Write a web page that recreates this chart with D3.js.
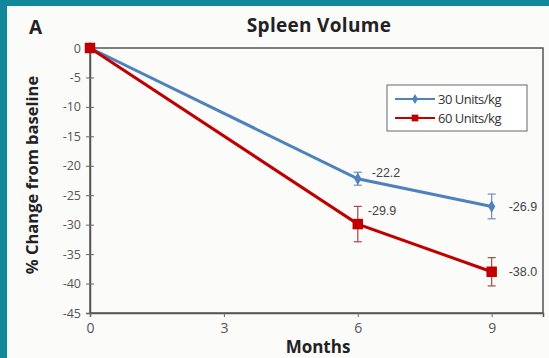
<!DOCTYPE html>
<html>
<head>
<meta charset="utf-8">
<script src="https://cdn.jsdelivr.net/npm/d3@7"></script>
<style>
  html, body { margin: 0; padding: 0; background: #fbfbfa; }
  svg { display: block; font-family: "Open Sans", "Liberation Sans", sans-serif; }
</style>
</head>
<body>
<svg width="549" height="358"></svg>
<script>
'use strict';
// chart data
var months = [0, 6, 9];
var xTicks = [0, 3, 6, 9];
var yTicks = [0, -5, -10, -15, -20, -25, -30, -35, -40, -45];
var seriesNames = ["30 Units/kg", "60 Units/kg"];
var low = [0, -22.2, -26.9];
var lowErr = [0, 1.1, 2.1];
var high = [0, -29.9, -38.0];
var highErr = [0, 3.0, 2.4];
var lowLabels = ["", "-22.2", "-26.9"];
var highLabels = ["", "-29.9", "-38.0"];

var svg = d3.select("svg"),
    margin = {top: 48, right: 6, bottom: 45, left: 90},
    width = +svg.attr("width") - margin.left - margin.right,
    height = +svg.attr("height") - margin.top - margin.bottom;

// teal frame on top and left
svg.append("rect").attr("x", 0).attr("y", 0).attr("width", 549).attr("height", 6).attr("fill", "#12899a");
svg.append("rect").attr("x", 0).attr("y", 0).attr("width", 7).attr("height", 358).attr("fill", "#12899a");

var x = d3.scaleLinear().domain([0, 10.15]).range([0, width]),
    y = d3.scaleLinear().domain([0, -45]).range([0, height]);

var g = svg.append("g").attr("transform", "translate(" + margin.left + "," + margin.top + ")");

svg.append("text").attr("x", 29).attr("y", 34).attr("font-size", 19).attr("font-weight", "bold")
  .attr("fill", "#222").text("A");
svg.append("text").attr("x", 319).attr("y", 32).attr("text-anchor", "middle").attr("font-size", 19)
  .attr("font-weight", "bold").attr("fill", "#222").attr("letter-spacing", 0.3).text("Spleen Volume");

// frame
g.append("rect").attr("width", width).attr("height", height)
  .attr("fill", "none").attr("stroke", "#555").attr("stroke-width", 1.5);

var yAxis = g.append("g")
  .call(d3.axisLeft(y).tickValues(yTicks).tickFormat(function(d) { return String(d); })
    .tickSize(4).tickPadding(5));
yAxis.selectAll(".tick line").attr("x2", 4).attr("x1", -4).attr("stroke", "#666");
yAxis.select(".domain").attr("stroke", "#555").attr("stroke-width", 1.5);
yAxis.selectAll("text").attr("font-size", 12.5).attr("fill", "#555").attr("font-family", "Open Sans, sans-serif");

var xAxis = g.append("g").attr("transform", "translate(0," + height + ")")
  .call(d3.axisBottom(x).tickValues(xTicks).tickSize(4).tickPadding(6));
xAxis.selectAll(".tick line").attr("stroke", "#666");
xAxis.select(".domain").attr("stroke", "#555").attr("stroke-width", 1.5);
xAxis.selectAll("text").attr("font-size", 14).attr("fill", "#555").attr("font-family", "Open Sans, sans-serif");

svg.append("text").attr("x", 318).attr("y", 353).attr("text-anchor", "middle").attr("font-size", 17)
  .attr("font-weight", "bold").attr("fill", "#222").text("Months");
svg.append("text").attr("transform", "translate(38,175) rotate(-90)").attr("text-anchor", "middle")
  .attr("font-size", 16.5).attr("font-weight", "bold").attr("fill", "#222").text("% Change from baseline");

function drawSeries(vals, errs, color, errColor, marker) {
  var line = d3.line().x(function(d, i) { return x(months[i]); }).y(function(d) { return y(d); });
  g.append("path").datum(vals).attr("d", line).attr("fill", "none")
    .attr("stroke", color).attr("stroke-width", 3);
  vals.forEach(function(v, i) {
    if (errs[i] > 0) {
      var cx = x(months[i]), y1 = y(v + errs[i]), y2 = y(v - errs[i]);
      g.append("line").attr("x1", cx).attr("x2", cx).attr("y1", y1).attr("y2", y2)
        .attr("stroke", errColor).attr("stroke-width", 1.2);
      [y1, y2].forEach(function(yy) {
        g.append("line").attr("x1", cx - 4).attr("x2", cx + 4).attr("y1", yy).attr("y2", yy)
          .attr("stroke", errColor).attr("stroke-width", 1.2);
      });
    }
  });
  g.selectAll(null).data(vals).enter().append("path")
    .attr("transform", function(d, i) { return "translate(" + x(months[i]) + "," + y(d) + ")"; })
    .attr("d", d3.symbol().type(marker.type).size(marker.size))
    .attr("fill", color);
}

drawSeries(low, lowErr, "#4f81bd", "#6f8fb0", {type: d3.symbolDiamond, size: 45});
drawSeries(high, highErr, "#c00000", "#a84848", {type: d3.symbolSquare, size: 110});

// value labels
var labelPos = [
  {vals: low, labels: lowLabels, dx: [0, 14, 17], dy: [0, -6, 0]},
  {vals: high, labels: highLabels, dx: [0, 10, 17], dy: [0, -13, 0]}
];
labelPos.forEach(function(s) {
  s.vals.forEach(function(v, i) {
    if (!s.labels[i]) return;
    g.append("text").attr("x", x(months[i]) + s.dx[i]).attr("y", y(v) + s.dy[i])
      .attr("dy", "0.35em").attr("font-size", 12.5).attr("fill", "#444")
      .attr("font-family", "Liberation Sans, sans-serif").text(s.labels[i]);
  });
});

// legend
var legend = svg.append("g").attr("transform", "translate(387,85)");
legend.append("rect").attr("width", 140).attr("height", 46).attr("fill", "#fff")
  .attr("stroke", "#666").attr("stroke-width", 1);
var legColors = ["#4f81bd", "#c00000"];
var legMarkers = [{type: d3.symbolDiamond, size: 30}, {type: d3.symbolSquare, size: 45}];
seriesNames.forEach(function(name, i) {
  var row = legend.append("g").attr("transform", "translate(0," + (14 + i * 19) + ")");
  row.append("line").attr("x1", 8).attr("x2", 48).attr("stroke", legColors[i]).attr("stroke-width", 2);
  row.append("path").attr("transform", "translate(28,0)")
    .attr("d", d3.symbol().type(legMarkers[i].type).size(legMarkers[i].size)).attr("fill", legColors[i]);
  row.append("text").attr("x", 51).attr("dy", "0.35em").attr("font-size", 13)
    .attr("fill", "#333").attr("letter-spacing", -0.5).text(name);
});
</script>
</body>
</html>
